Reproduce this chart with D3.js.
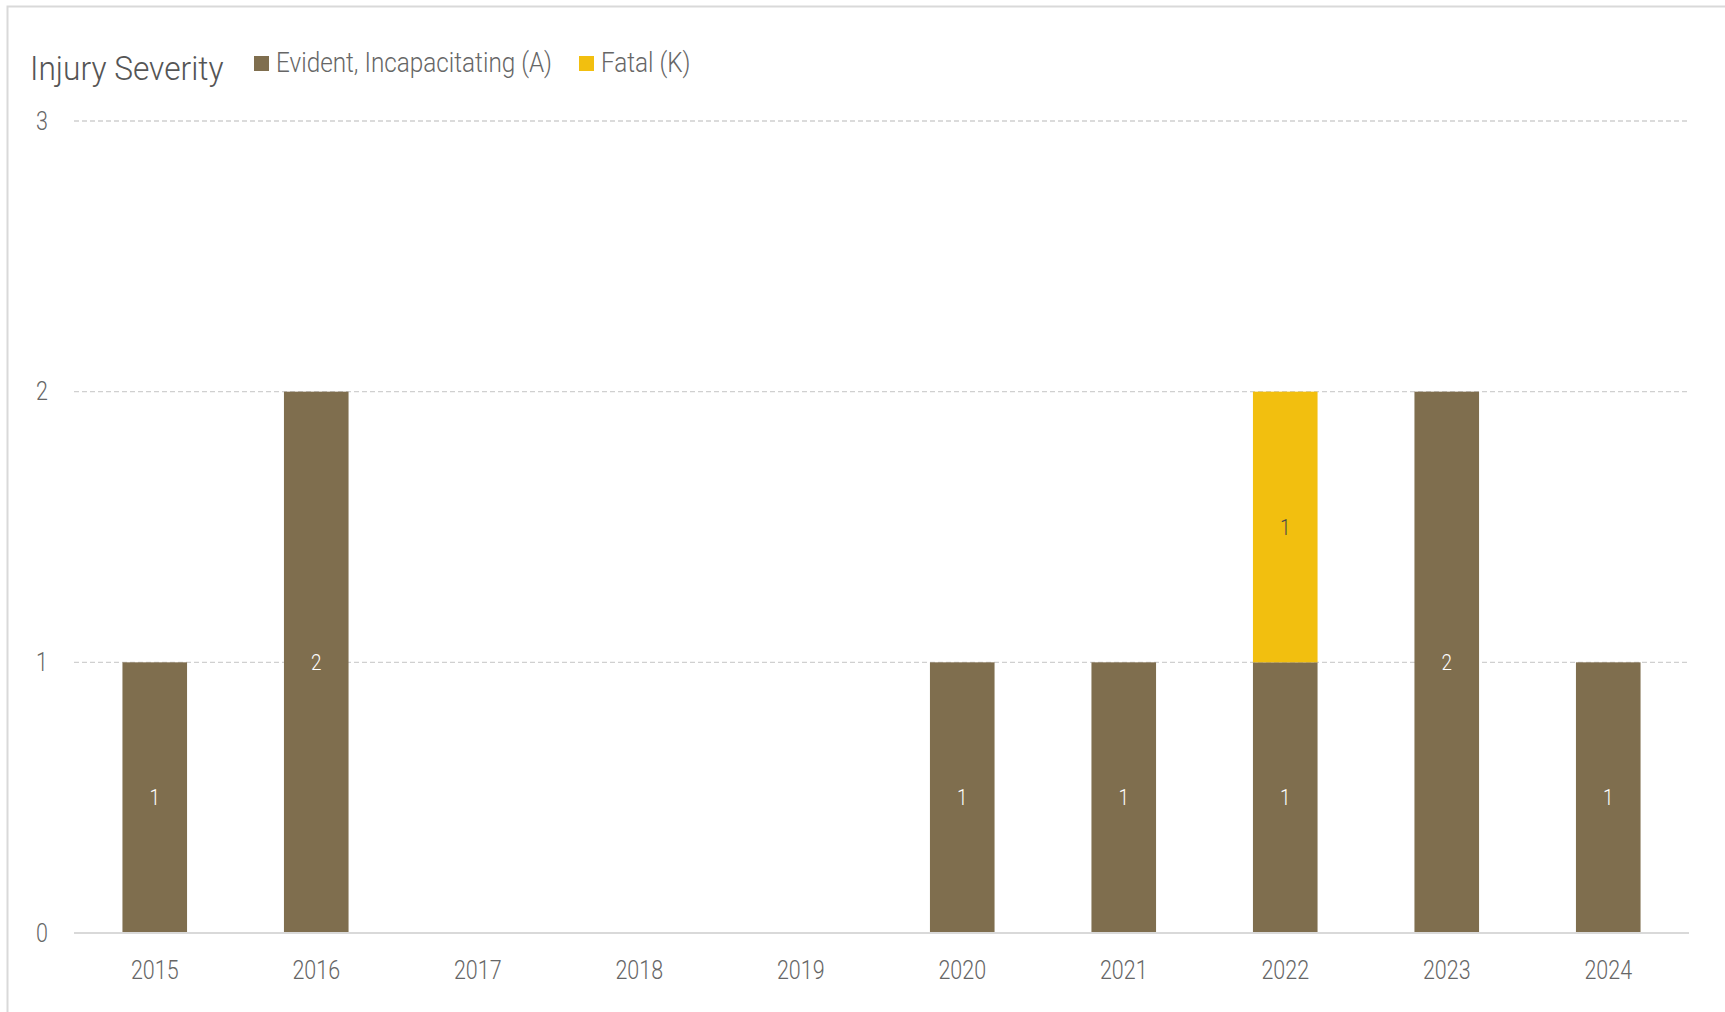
<!DOCTYPE html>
<html>
<head>
<meta charset="utf-8">
<script src="https://cdn.jsdelivr.net/npm/d3@7"></script>
<style>
  html, body { margin: 0; padding: 0; background: #fff; }
  svg { display: block; }
  text { font-family: "Roboto", sans-serif; font-weight: 300; }
</style>
</head>
<body>
<svg id="chart" width="1725" height="1012"></svg>
<script>
// Crash counts by year and injury severity
const years = ["2015", "2016", "2017", "2018", "2019", "2020", "2021", "2022", "2023", "2024"];
const seriesNames = ["Evident, Incapacitating (A)", "Fatal (K)"];
const evidentA = [1, 2, 0, 0, 0, 1, 1, 1, 2, 1];
const fatalK = [0, 0, 0, 0, 0, 0, 0, 1, 0, 0];
const yTicks = [0, 1, 2, 3];
const colors = ["#7F6E4E", "#F2BF0F"];

const svg = d3.select("#chart");
const W = 1725, H = 1012;
const margin = { left: 74, right: 36, top: 121, bottom: 79 };

// narrow the typeface horizontally around each label's anchor
function condense(sel, k = 0.86) {
  sel.each(function () {
    const t = d3.select(this);
    const ax = +t.attr("x") || 0;
    t.attr("transform", `translate(${ax},0) scale(${k},1) translate(${-ax},0)`);
  });
}

// panel frame
svg.append("rect")
  .attr("x", 7.5).attr("y", 6.5)
  .attr("width", W + 20).attr("height", H + 20)
  .attr("fill", "#fff").attr("stroke", "#d9d9d9").attr("stroke-width", 2);

const x = d3.scaleBand().domain(years)
  .range([margin.left, W - margin.right])
  .paddingInner(0.6).paddingOuter(0.3);
const y = d3.scaleLinear().domain([0, 3])
  .range([H - margin.bottom, margin.top]);

// gridlines
const grid = svg.append("g");
grid.selectAll("line").data(yTicks.filter(d => d > 0)).join("line")
  .attr("x1", margin.left).attr("x2", W - margin.right)
  .attr("y1", d => y(d)).attr("y2", d => y(d))
  .attr("stroke", "#d0d0d0").attr("stroke-width", 1.3)
  .attr("stroke-dasharray", "5,3");

// y axis labels
const yAxis = d3.axisLeft(y).tickValues(yTicks).tickSize(0).tickPadding(0).tickFormat(d3.format("d"));
const gy = svg.append("g").attr("transform", `translate(${margin.left - 32},0)`).call(yAxis);
gy.select(".domain").remove();
gy.selectAll("text").attr("font-size", 25).attr("fill", "#666").attr("text-anchor", "middle").attr("x", 0);
condense(gy.selectAll("text"));

// x axis
const xAxis = d3.axisBottom(x).tickSize(0).tickPadding(28);
const gx = svg.append("g").attr("transform", `translate(0,${y(0)})`).call(xAxis);
gx.select(".domain").remove();
gx.selectAll("text").attr("font-size", 25).attr("fill", "#666");
condense(gx.selectAll("text"));

// stacked bars
const rows = years.map((yr, i) => ({ year: yr, a: evidentA[i], k: fatalK[i] }));
const stack = d3.stack().keys(["a", "k"])(rows);

const layers = svg.append("g").selectAll("g").data(stack).join("g")
  .attr("fill", (d, i) => colors[i]);
layers.selectAll("rect").data(d => d.filter(s => s[1] - s[0] > 0)).join("rect")
  .attr("x", d => x(d.data.year))
  .attr("width", x.bandwidth())
  .attr("y", d => y(d[1]))
  .attr("height", d => y(d[0]) - y(d[1]));

// value labels
stack.forEach((layer, li) => {
  const lbl = svg.append("g").selectAll("text").data(layer.filter(s => s[1] - s[0] > 0)).join("text")
    .attr("x", d => x(d.data.year) + x.bandwidth() / 2)
    .attr("y", d => y((d[0] + d[1]) / 2))
    .attr("dy", "0.35em")
    .attr("text-anchor", "middle")
    .attr("font-size", 22)
    .attr("fill", li === 0 ? "#ffffff" : "#4a4a4a")
    .text(d => d[1] - d[0]);
  condense(lbl);
});

// baseline
svg.append("line")
  .attr("x1", margin.left).attr("x2", W - margin.right)
  .attr("y1", y(0)).attr("y2", y(0))
  .attr("stroke", "#d9d9d9").attr("stroke-width", 2);

// title and legend
const title = svg.append("text").attr("x", 30).attr("y", 80)
  .attr("font-size", 33).attr("fill", "#555").text("Injury Severity");
condense(title, 0.96);

const legend = svg.append("g");
const legendX = [254, 579];
seriesNames.forEach((name, i) => {
  legend.append("rect").attr("x", legendX[i]).attr("y", 56)
    .attr("width", 15).attr("height", 15).attr("fill", colors[i]);
  const t = legend.append("text").attr("x", legendX[i] + 22).attr("y", 72)
    .attr("font-size", 27).attr("fill", "#666").text(name);
  condense(t, 0.9);
});
</script>
</body>
</html>
